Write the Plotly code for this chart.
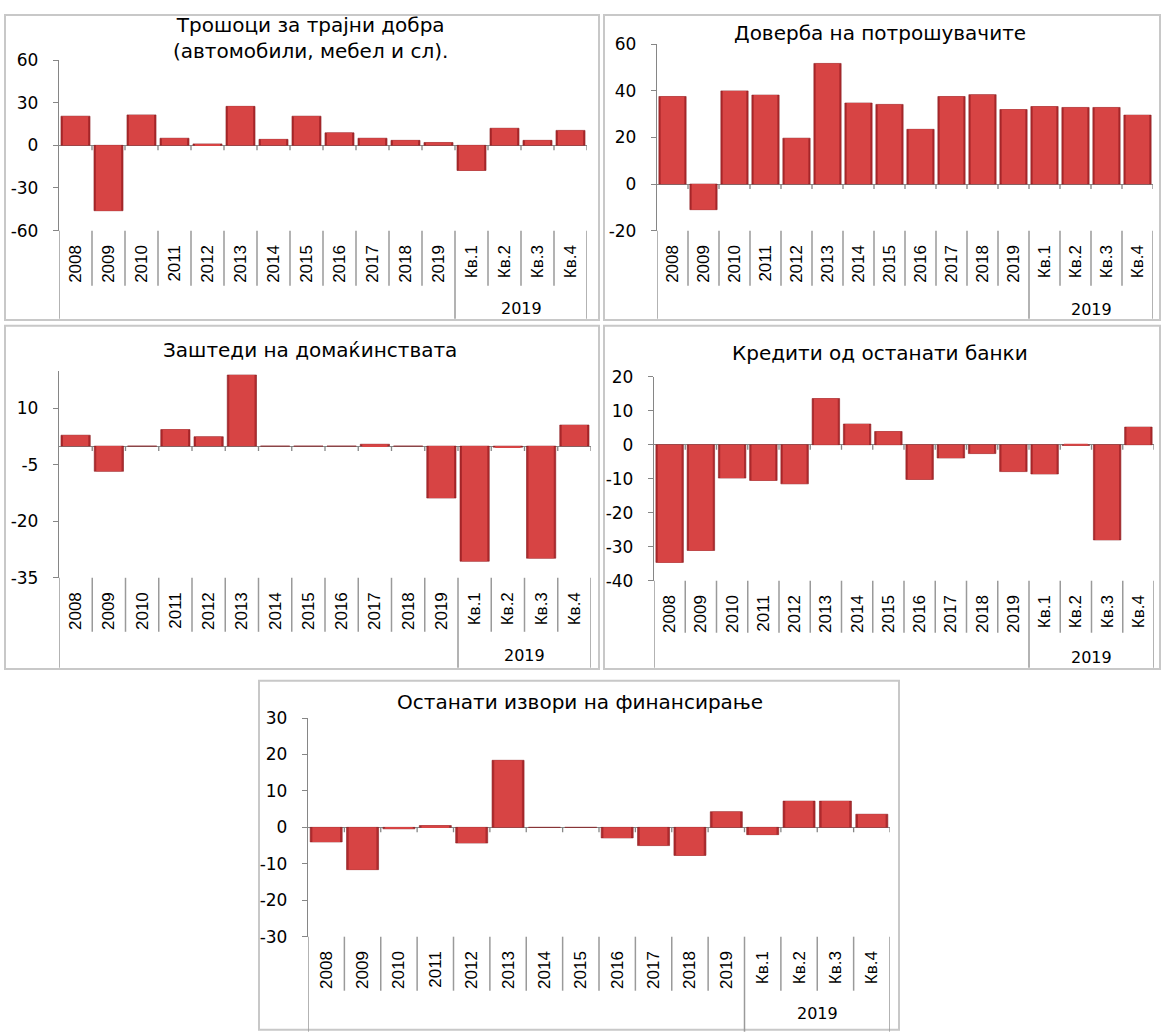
import plotly.graph_objects as go

# Category labels shared by all five panels
categories = ["2008", "2009", "2010", "2011", "2012", "2013", "2014", "2015",
              "2016", "2017", "2018", "2019", "Кв.1", "Кв.2", "Кв.3", "Кв.4"]
group_label = "2019"

durables = [20.5, -46, 21.4, 5, 1, 27.4, 4.2, 20.5, 8.8, 5, 3.5, 2,
            -17.7, 12, 3.5, 10.5]
confidence = [37.6, -11, 40, 38.2, 19.7, 51.8, 34.8, 34.2, 23.5, 37.6, 38.4, 32,
              33.3, 32.9, 32.9, 29.6]
savings = [2.9, -6.7, 0, 4.4, 2.5, 18.9, 0, 0, 0, 0.5, 0, -13.8,
           -30.6, -0.3, -29.8, 5.6]
other_bank_loans = [-34.6, -31.1, -9.8, -10.5, -11.5, 13.6, 6.1, 3.9, -10.2, -3.9, -2.6, -7.9,
                    -8.6, -0.2, -28, 5.2]
other_funding = [-4, -11.6, -0.4, 0.5, -4.3, 18.4, 0, 0, -2.9, -5, -7.7, 4.3,
                 -2, 7.2, 7.2, 3.6]

titles = ["Трошоци за трајни добра<br>(автомобили, мебел и сл).",
          "Доверба на потрошувачите",
          "Заштеди на домаќинствата",
          "Кредити од останати банки",
          "Останати извори на финансирање"]
series = [durables, confidence, savings, other_bank_loans, other_funding]
y_ranges = [[-60, 60], [-20, 60], [-35, 20], [-40, 20], [-30, 30]]
y_ticks = [[-60, -30, 0, 30, 60], [-20, 0, 20, 40, 60], [-35, -20, -5, 10],
           [-40, -30, -20, -10, 0, 10, 20], [-30, -20, -10, 0, 10, 20, 30]]

W, H = 1162, 1033

# Pixel geometry of each panel: plot area, frame box, title position,
# label separator length, group separator end, group label y
panels = [
    dict(plot=(59, 587, 51, 225), box=(5, 5, 599, 316), title=(310, 29),
         sep=55, group_end=313, group_y=304),
    dict(plot=(657, 1153, 35, 225), box=(604, 5, 1160, 316), title=(880, 23),
         sep=55, group_end=313, group_y=305),
    dict(plot=(59, 591, 368, 579), box=(5, 322, 599, 672), title=(310, 347),
         sep=54, group_end=669, group_y=658),
    dict(plot=(654, 1154, 374, 582), box=(604, 322, 1160, 672), title=(880, 350),
         sep=52, group_end=669, group_y=660),
    dict(plot=(308, 890, 722, 945), box=(259, 684, 899, 1040), title=(580, 706),
         sep=54, group_end=1040, group_y=1023),
]

AXIS_GREY = "#868686"
SEP_GREY = "#9a9a9a"
FRAME_GREY = "#c8c8c8"
EDGE_RED = "#ae2a2d"
FACE_RED = "#d74444"

fig = go.Figure()
layout = dict(width=W, height=H, margin=dict(l=0, r=0, t=0, b=0),
              paper_bgcolor="white", plot_bgcolor="rgba(0,0,0,0)",
              showlegend=False, barmode="overlay", font=dict(family="DejaVu Sans", color="#000"))
shapes = []
annotations = []

for i, (p, vals) in enumerate(zip(panels, series)):
    n = i + 1
    suffix = "" if n == 1 else str(n)
    xa, ya = "x" + suffix, "y" + suffix
    x0, x1, yt, yb = p["plot"]
    # outer bevel edge
    fig.add_trace(go.Bar(x=categories, y=vals, width=0.88, xaxis=xa, yaxis=ya,
                         marker=dict(color=EDGE_RED, line=dict(color="#8a1c20", width=0.6)),
                         hoverinfo="x+y"))
    # lighter bar face
    fig.add_trace(go.Bar(x=categories, y=vals, width=0.76, xaxis=xa, yaxis=ya,
                         marker=dict(color=FACE_RED, line=dict(width=0)),
                         hoverinfo="skip"))

    layout["xaxis" + suffix] = dict(
        domain=[x0 / W, x1 / W], anchor=ya, type="category",
        range=[-0.5, len(categories) - 0.5], showline=False, showgrid=False,
        zeroline=False, ticks="", tickangle=-90, ticklabelstandoff=10,
        tickfont=dict(family="Liberation Sans", size=17, color="#000"),
        fixedrange=True)
    layout["yaxis" + suffix] = dict(
        domain=[1 - yb / H, 1 - yt / H], anchor=xa, range=y_ranges[i],
        tickvals=y_ticks[i], ticktext=[str(v) for v in y_ticks[i]],
        showgrid=False, zeroline=True, zerolinecolor=AXIS_GREY,
        zerolinewidth=1.3, showline=True, linecolor=AXIS_GREY, linewidth=1.3,
        ticks="outside", ticklen=5, tickcolor=AXIS_GREY, tickwidth=1.3,
        ticklabelstandoff=11,
        tickfont=dict(family="DejaVu Sans", size=17, color="#000"),
        fixedrange=True)

    # small tick marks on the zero line at category boundaries
    for k in range(1, len(categories) + 1):
        shapes.append(dict(type="line", xref=xa, yref=ya, x0=k - 0.5, x1=k - 0.5,
                           ysizemode="pixel", yanchor=0, y0=0, y1=-5,
                           line=dict(color=AXIS_GREY, width=1.3)))
    # separators between category labels
    for k in range(1, len(categories)):
        if k == 12:
            continue
        shapes.append(dict(type="line", xref=xa, yref=ya + " domain", x0=k - 0.5, x1=k - 0.5,
                           ysizemode="pixel", yanchor=0, y0=0, y1=-p["sep"],
                           line=dict(color=SEP_GREY, width=1.5)))
    # longer separators framing the category groups
    for xk in (-0.5, 11.5, 15.5):
        shapes.append(dict(type="line", xref=xa, yref=ya + " domain", x0=xk, x1=xk,
                           ysizemode="pixel", yanchor=0, y0=0, y1=-(p["group_end"] - yb),
                           line=dict(color=SEP_GREY, width=1.5)))
    # group label under the quarters
    annotations.append(dict(text=group_label, xref=xa, yref="paper", x=13.5,
                            y=1 - p["group_y"] / H, showarrow=False,
                            font=dict(family="DejaVu Sans", size=16, color="#000"),
                            xanchor="center", yanchor="middle"))
    # panel title
    tx, ty = p["title"]
    annotations.append(dict(text=titles[i], xref="paper", yref="paper", x=tx / W,
                            y=1 - ty / H, showarrow=False,
                            font=dict(family="DejaVu Sans", size=20, color="#000"),
                            xanchor="center", yanchor="middle", align="center"))
    # panel frame
    bx0, by0, bx1, by1 = p["box"]
    shapes.append(dict(type="rect", xref="paper", yref="paper", x0=bx0 / W, x1=bx1 / W,
                       y0=1 - by1 / H, y1=1 - by0 / H,
                       line=dict(color=FRAME_GREY, width=2), layer="below"))

layout["shapes"] = shapes
layout["annotations"] = annotations
fig.update_layout(**layout)
fig.write_html("out.html")
